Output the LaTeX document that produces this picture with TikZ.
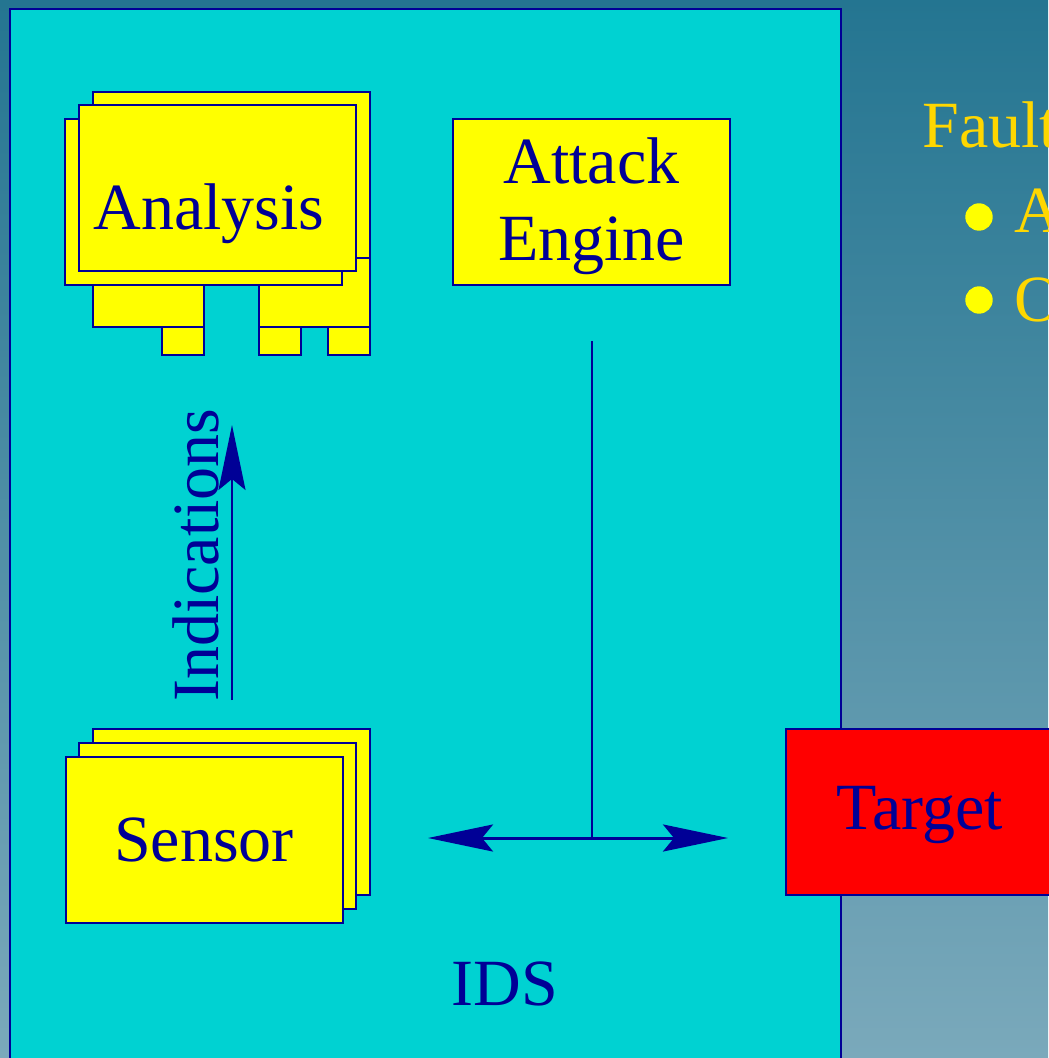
\documentclass[tikz,border=0pt]{standalone}
\usepackage{fontspec}
\setmainfont{Liberation Serif}
\usetikzlibrary{arrows.meta,positioning}
\definecolor{idsblue}{RGB}{0,0,150}
\definecolor{idscyan}{RGB}{0,210,210}
\definecolor{cardyellow}{RGB}{255,255,0}
\definecolor{targetred}{RGB}{255,0,0}
\definecolor{bgtop}{RGB}{36,117,145}
\definecolor{bgbot}{RGB}{122,169,187}
\definecolor{faultgold}{RGB}{255,215,0}
\tikzset{
	cardline/.style={draw=idsblue,fill=cardyellow,line width=1pt},
	card/.style={cardline,minimum width=138.5pt,minimum height=83pt,inner sep=0pt,
		text=idsblue,font=\fontsize{33}{38.5}\selectfont,align=center},
	label/.style={text=idsblue,font=\fontsize{33}{38.5}\selectfont,inner sep=0pt},
	slide/.style={text=faultgold,font=\fontsize{33}{38.5}\selectfont,inner sep=0pt},
}

\begin{document}
\begin{tikzpicture}[x=0.5pt,y=-0.5pt,>={Stealth[length=32.5pt,width=13.5pt,inset=5.5pt]}]
	\useasboundingbox (0,0) rectangle (1048,1058);
	
	% Background and IDS box
	\shade[top color=bgtop,bottom color=bgbot] (0,0) rectangle (1048,1058);
	\draw[draw=idsblue,fill=idscyan,line width=1pt] (10,9) rectangle (841,1075);
	\node[label,anchor=base] (ids) at (505,1005) {IDS};
	
	% Analysis stack
	\draw[cardline] (93,92) rectangle (370,258);
	\draw[cardline] (259,258) rectangle (370,327);
	\draw[cardline] (93,258) rectangle (204,327);
	\foreach \x in {162,259,328}
		\draw[cardline] (\x,327) rectangle ++(42,28);
	\draw[cardline] (65,119) rectangle (342,285);
	\node[card] (analysis) at (217.5,188) {};
	\node[label,anchor=base] at (209,230) {Analysis};
	
	% Attack engine
	\node[card,text depth=3pt] (engine) at (591.5,202) {Attack\\Engine};
	
	% Sensor stack
	\foreach \d in {28,14}
		\draw[cardline] (65+\d,757-\d) rectangle ++(277,166);
	\node[card] (sensor) at (204,840) {Sensor};
	
	% Target
	\node[card,fill=targetred,minimum width=134pt,text depth=4pt] (target) at (920,811.5) {Target};
	
	% Indications arrow
	\coordinate (indbot) at (232,700);
	\coordinate (indtop) at (232,425);
	\draw[->,idsblue,line width=1pt] (indbot) -- (indtop);
	\node[label,rotate=90,anchor=base] (ind) at (218,555) {Indications};
	
	% Attack engine feeding the sensor/target link
	\coordinate (engtail) at (592,341);
	\coordinate (tee) at (592,838);
	\coordinate (linkl) at (428,838);
	\coordinate (linkr) at (728,838);
	\draw[idsblue,line width=1pt] (engtail) -- (tee);
	\draw[<->,idsblue,line width=1.5pt] (linkl) -- (linkr);
	
	% Slide text on the right
	\node[slide,anchor=base west] (fault) at (922,148) {Fault};
	\node[circle,fill=cardyellow,minimum size=13.7pt,inner sep=0pt] (b1) at (979,217) {};
	\node[circle,fill=cardyellow,minimum size=13.7pt,inner sep=0pt] (b2) at (979,300) {};
	\node[slide,anchor=base west] (ia) at (1014,233) {A};
	\node[slide,anchor=base west] (io) at (1014,322) {O};
	
\end{tikzpicture}
\end{document}
